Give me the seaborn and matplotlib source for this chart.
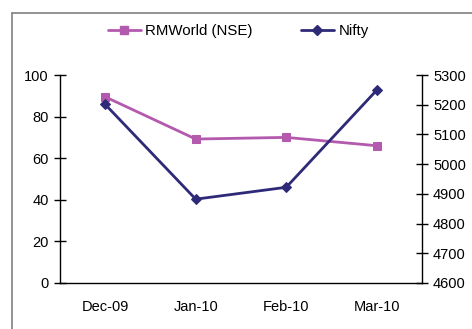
import matplotlib.pyplot as plt
import matplotlib.lines as mlines
import seaborn as sns

months = ["Dec-09", "Jan-10", "Feb-10", "Mar-10"]
rmworld = [89.5, 69.2, 70.0, 66.0]
nifty = [5201, 4882, 4922, 5249]

sns.set_style("white")
plt.rcParams["font.family"] = ["Liberation Sans", "DejaVu Sans"]
plt.rcParams["font.size"] = 10.5
plt.rcParams["text.color"] = "black"
plt.rcParams["xtick.color"] = "black"
plt.rcParams["ytick.color"] = "black"

pink = "#B45AAE"
navy = "#2E2A78"

fig = plt.figure(figsize=(4.72, 3.29), dpi=100)
ax = fig.add_axes([0.127, 0.140, 0.767, 0.632])
ax2 = ax.twinx()

sns.lineplot(x=months, y=rmworld, ax=ax, color=pink, marker="s", markersize=6,
             markeredgecolor=pink, linewidth=2)
sns.lineplot(x=months, y=nifty, ax=ax2, color=navy, marker="D", markersize=5,
             markeredgecolor=navy, linewidth=2)

ax.set_xlim(-0.5, 3.5)
ax.set_ylim(0, 100)
ax.set_yticks(range(0, 101, 20))
ax2.set_ylim(4600, 5300)
ax2.set_yticks(range(4600, 5301, 100))

# category boundaries as major ticks, labels in between
ax.set_xticks([-0.5, 0.5, 1.5, 2.5, 3.5])
ax.set_xticklabels([])
ax.set_xticks(range(len(months)), minor=True)
ax.set_xticklabels(months, minor=True)
ax.tick_params(axis="x", which="minor", length=0, pad=12, labelsize=10.5)
ax.tick_params(axis="x", which="major", direction="inout", length=8, width=1, color="black")
ax.tick_params(axis="y", direction="inout", length=8, width=1, color="black", pad=4, labelsize=10.5)
ax2.tick_params(axis="y", direction="inout", length=8, width=1, color="black", pad=4, labelsize=10.5)

for a in (ax, ax2):
    a.spines["top"].set_visible(False)
    for s in ("left", "right", "bottom"):
        a.spines[s].set_color("black")
        a.spines[s].set_linewidth(1)
ax.spines["right"].set_visible(False)
ax2.spines["left"].set_visible(False)
ax2.spines["bottom"].set_visible(False)
ax.set_xlabel("")
ax.set_ylabel("")
ax2.set_ylabel("")

h1 = mlines.Line2D([], [], color=pink, marker="s", markersize=6, linewidth=2)
h2 = mlines.Line2D([], [], color=navy, marker="D", markersize=5, linewidth=2)
fig.legend([h1, h2], ["RMWorld (NSE)", "Nifty"], loc="center", ncol=2,
           bbox_to_anchor=(0.505, 0.905), frameon=False, handlelength=2.2,
           handletextpad=0.3, columnspacing=3.2, fontsize=10.8)

# outer chart border
fig.add_artist(mlines.Line2D([0.026, 0.026], [0, 0.96], color="#808080", linewidth=1.2,
                             transform=fig.transFigure))
fig.add_artist(mlines.Line2D([0.026, 1], [0.96, 0.96], color="#808080", linewidth=1.2,
                             transform=fig.transFigure))

fig.savefig("out.png", dpi=100)
